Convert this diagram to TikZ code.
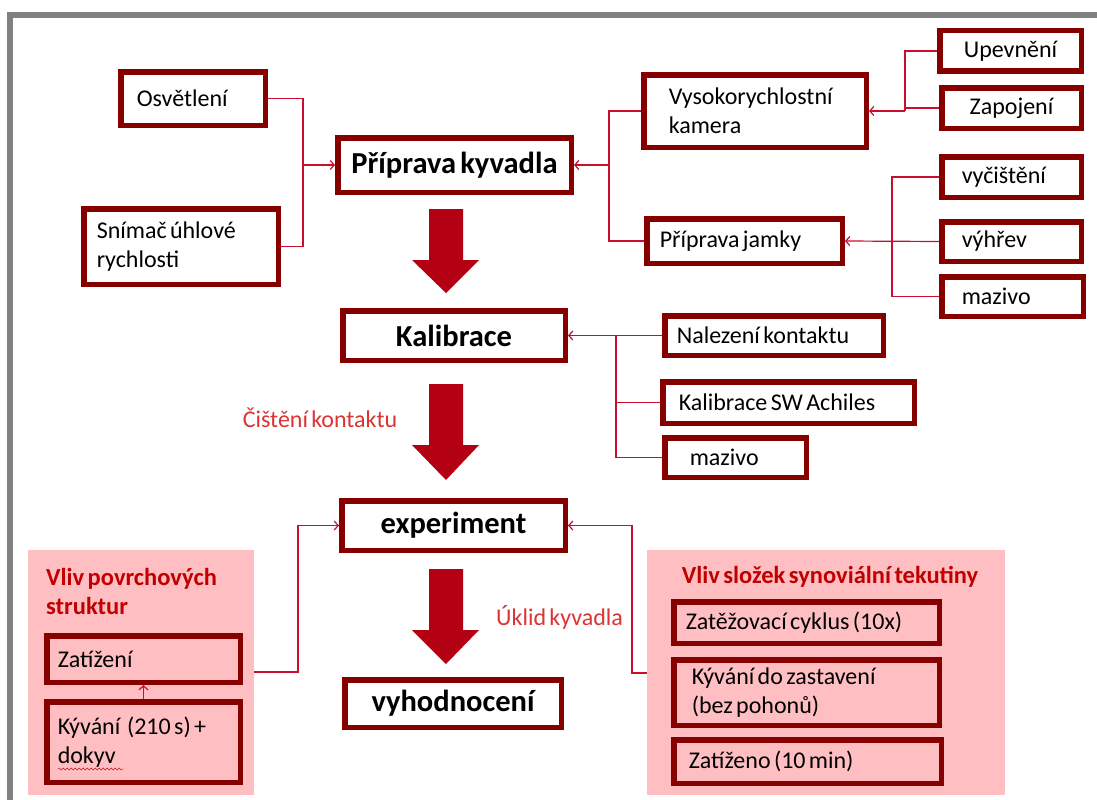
\documentclass[tikz,border=0pt]{standalone}
\usepackage{fontspec}
\setmainfont{Carlito}[WordSpace=0.6]
\usepackage{tikz}
\usetikzlibrary{arrows.meta, positioning, decorations.pathmorphing}
\definecolor{mBoxRed}{HTML}{860000}
\definecolor{mLinkRed}{HTML}{C8102E}
\definecolor{mArrowRed}{HTML}{B30012}
\definecolor{mPink}{HTML}{FFBFC2}
\definecolor{mHeadRed}{HTML}{C00000}
\definecolor{mNoteRed}{HTML}{DD3333}
\definecolor{mGray}{HTML}{808080}
\hyphenpenalty=10000
\exhyphenpenalty=10000

\begin{document}
\begin{tikzpicture}[x=1pt, y=-1pt,
    box/.style={draw=mBoxRed, line width=5.5pt, fill=white},
    tile/.style n args={3}{box, minimum width={#1pt-5.5pt}, minimum height={#2pt-5.5pt},
      inner xsep=#3pt, text width={#1pt-5.5pt-2*#3pt}, align=left,
      font=\fontsize{24}{29}\selectfont,
      execute at begin node={\spaceskip=0.14em plus 0.05em\xspaceskip=0.14em}},
    head/.style 2 args={box, minimum width={#1pt-5.5pt}, minimum height={#2pt-5.5pt},
      font=\fontsize{30.5}{35}\selectfont\bfseries},
    group/.style={fill=mPink, inner sep=0pt},
    grouphead/.style={inner sep=0pt, text=mHeadRed, align=left,
      font=\fontsize{24.5}{29}\selectfont\bfseries,
      execute at begin node={\spaceskip=0.14em plus 0.05em\xspaceskip=0.14em}},
    note/.style={inner sep=0pt, text=mNoteRed, font=\fontsize{24}{29}\selectfont},
    link/.style={draw=mLinkRed, line width=1.2pt},
    linkto/.style={link, -{Straight Barb[length=4pt, width=9pt]}}]
    \fill[white] (0,0) rectangle (1097,800);
    \useasboundingbox (0,0) rectangle (1097,800);
    % frame of the screenshot
    \fill[mGray] (7,12) rectangle (1097,18);
    \fill[mGray] (7,12) rectangle (13,800);

    % main chain
    \node[head={239}{60}] (prip) at (454.5,165) {Příprava kyvadla};
    \node[head={228}{55}] (kal) at (454,335.5) {Kalibrace};
    \node[head={229}{55}] (exp) at (453.5,525.5) {experiment};
    \node[head={222}{53}] (vyh) at (453,703.5) {vyhodnocení};
    \foreach \top/\neck/\tip in {209/260/293, 384/445/480, 569/630/664}
      \fill[mArrowRed] (429,\top) -- (463,\top) -- (463,\neck) -- (479,\neck)
        -- (446,\tip) -- (412,\neck) -- (429,\neck) -- cycle;
    \node[note] (cist) at (320,418) {Čištění kontaktu};
    \node[note, anchor=west] (uklid) at (496,617) {Úklid kyvadla};

    % inputs of Příprava kyvadla
    \node[tile={150}{59}{16}] (osv) at (193,98.5) {Osvětlení};
    \node[tile={200}{81}{13}] (snim) at (181,246.5) {Snímač úhlové\\rychlosti};
    \node[tile={228}{78}{25}] (kam) at (755,111) {Vysokorychlostní\\kamera};
    \node[tile={201}{50}{13}] (jamk) at (744.5,241) {Příprava jamky};
    \node[tile={147}{46}{10}, align=center] (upev) at (1010.5,51) {Upevnění};
    \node[tile={145}{46}{10}, align=center] (zapo) at (1011.5,108) {Zapojení};
    \node[tile={145}{46}{20}] (vyci) at (1011.5,177) {vyčištění};
    \node[tile={145}{45}{20}] (vyhr) at (1011.5,241.5) {výhřev};
    \node[tile={147}{45}{20}] (maz1) at (1012.5,296.5) {mazivo};

    % inputs of Kalibrace
    \node[tile={224}{45}{12}] (nal) at (774,335.5) {Nalezení kontaktu};
    \node[tile={257}{47}{16}] (ksw) at (788.5,402.5) {Kalibrace SW Achiles};
    \node[tile={147}{45}{25}] (maz2) at (735.5,457.5) {mazivo};

    % groups feeding the experiment
    \node[group, minimum width=226pt, minimum height=245pt] (grpL) at (141,672.5) {};
    \node[grouphead, anchor=west] (hdL) at (46,591.5) {Vliv povrchových\\struktur};
    \node[tile={199}{52}{11}, fill=mPink] (zat) at (143.5,659) {Zatížení};
    \node[tile={199}{86}{11}, fill=mPink] (kyv) at (143.5,742) {Kývání~~(210 s) +\\dokyv};
    \draw[mLinkRed, decorate, decoration={snake, amplitude=1pt, segment length=4pt}]
      (58,769) -- (124,769);

    \node[group, minimum width=358pt, minimum height=245pt] (grpR) at (826,672.5) {};
    \node[grouphead] (hdR) at (830,577) {Vliv složek synoviální tekutiny};
    \node[tile={271}{47}{12}, fill=mPink] (zcyk) at (806.5,622.5) {Zatěžovací cyklus (10x)};
    \node[tile={271}{71}{18}, fill=mPink] (kdz) at (806.5,692.5) {Kývání do zastavení\\(bez pohonů)};
    \node[tile={273}{49}{15}, fill=mPink] (zten) at (807.5,761.5) {Zatíženo (10 min)};

    % connectors
    \coordinate (jOsv) at (303,165);
    \draw[link] (osv.east) -| (jOsv);
    \draw[link] (snim.east) -| (jOsv);
    \draw[linkto] (jOsv) -- (prip.west);

    \coordinate (jPrip) at (609,165);
    \draw[link] (kam.west) -| (jPrip) |- (jamk.west);
    \draw[linkto] (jPrip) -- (prip.east);

    \coordinate (jKam) at (905,111);
    \draw[link] (upev.west) -| (jKam);
    \draw[link] (zapo.west) -| (jKam);
    \draw[linkto] (jKam) -- (kam.east);

    \coordinate (jJamk) at (892,241);
    \draw[link] (vyci.west) -| (jJamk) |- (maz1.west);
    \draw[linkto] (vyhr.west) -- (jamk.east);

    \coordinate (jKal) at (616,335.5);
    \draw[link] (jKal) |- (ksw.west);
    \draw[link] (jKal) |- (maz2.west);
    \draw[linkto] (nal.west) -- (kal.east);

    \coordinate (jGrpL) at (298,672);
    \draw[linkto] (grpL.east |- jGrpL) -- (jGrpL) |- (exp.west);
    \coordinate (jGrpR) at (632,673);
    \draw[linkto] (grpR.west |- jGrpR) -- (jGrpR) |- (exp.east);
    \draw[linkto] (kyv.north) -- (zat.south);
  \end{tikzpicture}
\end{document}
